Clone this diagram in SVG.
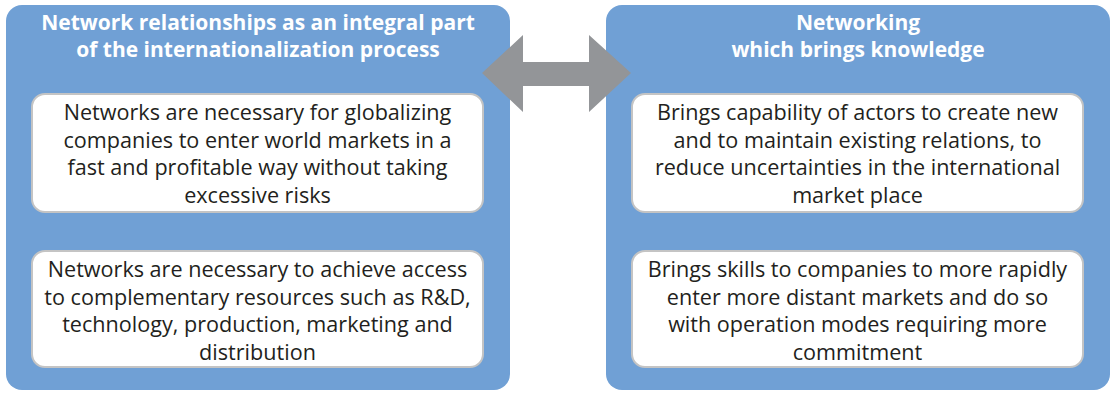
<svg xmlns="http://www.w3.org/2000/svg" width="1114" height="393" viewBox="0 0 1114 393">
<style>
.panel{fill:#70a0d5;}
.box{fill:#ffffff;stroke:#c4c4c4;stroke-width:2;}
.title{font-family:"Open Sans","Liberation Sans",Arial,sans-serif;font-weight:bold;font-size:21px;fill:#ffffff;text-anchor:middle;}
.body{font-family:"Open Sans","Liberation Sans",Arial,sans-serif;font-size:21.6px;fill:#231f20;text-anchor:middle;}
.arrow{fill:#939598;}
</style>
<rect width="1114" height="393" fill="#ffffff"/>
<g id="left-panel">
<rect class="panel" x="6" y="5" width="504" height="385" rx="16"/>
<text class="title" x="258" y="29.5">Network relationships as an integral part</text>
<text class="title" x="258" y="56.5">of the internationalization process</text>
</g>
<g id="right-panel">
<rect class="panel" x="606" y="5" width="504" height="385" rx="16"/>
<text class="title" x="858" y="29.5">Networking</text>
<text class="title" x="858" y="56.5">which brings knowledge</text>
</g>
<g id="left-box-1">
<rect class="box" x="32" y="94" width="451" height="118" rx="13"/>
<text class="body" x="257.5" y="120">Networks are necessary for globalizing</text>
<text class="body" x="257.5" y="147.5">companies to enter world markets in a</text>
<text class="body" x="257.5" y="175">fast and profitable way without taking</text>
<text class="body" x="257.5" y="202.5">excessive risks</text>
</g>
<g id="left-box-2">
<rect class="box" x="32" y="251" width="451" height="116" rx="13"/>
<text class="body" x="257.5" y="277">Networks are necessary to achieve access</text>
<text class="body" x="257.5" y="304.5">to complementary resources such as R&amp;D,</text>
<text class="body" x="257.5" y="332">technology, production, marketing and</text>
<text class="body" x="257.5" y="359.5">distribution</text>
</g>
<g id="right-box-1">
<rect class="box" x="632" y="94" width="451" height="118" rx="13"/>
<text class="body" x="857.5" y="120">Brings capability of actors to create new</text>
<text class="body" x="857.5" y="147.5">and to maintain existing relations, to</text>
<text class="body" x="857.5" y="175">reduce uncertainties in the international</text>
<text class="body" x="857.5" y="202.5">market place</text>
</g>
<g id="right-box-2">
<rect class="box" x="632" y="251" width="451" height="116" rx="13"/>
<text class="body" x="857.5" y="277">Brings skills to companies to more rapidly</text>
<text class="body" x="857.5" y="304.5">enter more distant markets and do so</text>
<text class="body" x="857.5" y="332">with operation modes requiring more</text>
<text class="body" x="857.5" y="359.5">commitment</text>
</g>
<g id="connectors">
<polygon class="arrow" points="482,73 523,35 523,62 589,62 589,35 631,73 589,112 589,86 523,86 523,112"/>
</g>
</svg>
